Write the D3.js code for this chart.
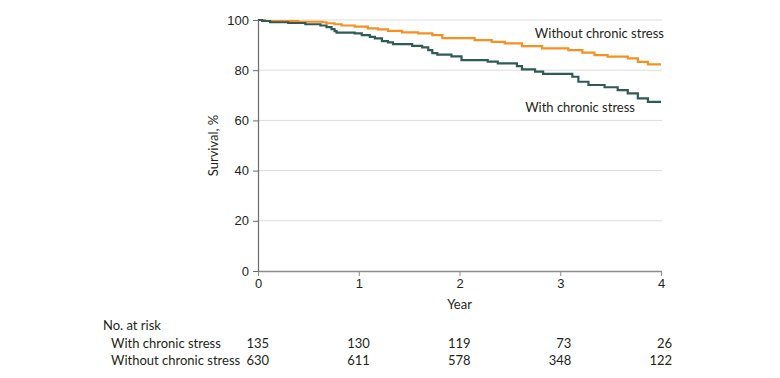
<!DOCTYPE html>
<html>
<head>
<meta charset="utf-8">
<style>
    body { margin: 0; background: white; }
    svg { font-family: Lato, "Noto Sans", sans-serif; }
    .grid line { stroke: #dcdcdc; stroke-width: 1; }
    text { fill: #231f20; }
</style>
<script src="https://cdn.jsdelivr.net/npm/d3@7"></script>
</head>
<body>
<svg id="chart" width="780" height="378"></svg>
<script>
    // Kaplan-Meier steps (year, survival %)
    let withStressTimes = [0, 0.04, 0.12, 0.30, 0.47, 0.62, 0.68, 0.73, 0.76, 0.78, 0.96, 1.03, 1.11, 1.16, 1.23, 1.29, 1.34, 1.53, 1.63, 1.69, 1.73, 1.78, 1.92,
        2.02, 2.28, 2.38, 2.57, 2.62, 2.75, 2.83, 3.12, 3.18, 3.28, 3.44, 3.57, 3.67, 3.77, 3.87, 4.0]
    let withStressSurv  = [100, 99.6, 99.1, 98.8, 98.3, 97.8, 97.2, 96.4, 95.6, 95.0, 94.7, 94.0, 93.3, 92.7, 91.6, 91.1, 90.4, 89.7, 89.1, 88.0, 86.8, 86.2, 85.5,
        84.0, 83.4, 82.7, 81.6, 80.3, 79.4, 78.5, 77.4, 75.4, 74.1, 73.2, 72.1, 70.8, 68.8, 67.4, 67.4]

    let withoutStressTimes = [0, 0.07, 0.40, 0.64, 0.68, 0.76, 0.83, 0.96, 1.09, 1.19, 1.29, 1.43, 1.59, 1.73, 1.83,
        2.15, 2.32, 2.45, 2.62, 2.82, 3.08, 3.22, 3.34, 3.47, 3.67, 3.77, 3.87, 4.0]
    let withoutStressSurv  = [100, 99.6, 99.3, 99.1, 98.7, 98.3, 97.8, 97.4, 96.7, 96.3, 95.7, 95.1, 94.7, 94.0, 92.8,
        92.0, 91.3, 90.7, 89.6, 88.7, 88.0, 87.0, 86.0, 85.4, 84.7, 83.3, 82.3, 82.3]

    let xTicks = [0, 1, 2, 3, 4]
    let yTicks = [0, 20, 40, 60, 80, 100]

    let riskLabels = ["With chronic stress", "Without chronic stress"]
    let riskWith = [135, 130, 119, 73, 26]
    let riskWithout = [630, 611, 578, 348, 122]

    let colorWith = "#2f5b57"
    let colorWithout = "#f7901e"

    let svg = d3.select("#chart")
    let margin = { left: 258, top: 20, right: 119, bottom: 107 }
    let width = 780, height = 378

    let xScale = d3.scaleLinear().domain([0, 4]).range([margin.left, width - margin.right])
    let yScale = d3.scaleLinear().domain([0, 100]).range([height - margin.bottom, margin.top])

    // gridlines
    svg.append("g").attr("class", "grid")
        .selectAll("line").data(yTicks.filter(d => d > 0)).enter().append("line")
        .attr("x1", xScale(0)).attr("x2", xScale(4) + 1)
        .attr("y1", d => yScale(d)).attr("y2", d => yScale(d))

    // curves
    let line = d3.line()
        .x(d => xScale(d[0]))
        .y(d => yScale(d[1]))
        .curve(d3.curveStepAfter)

    let withoutData = withoutStressTimes.map((t, i) => [t, withoutStressSurv[i]])
    let withData = withStressTimes.map((t, i) => [t, withStressSurv[i]])

    svg.append("path").datum(withoutData)
        .attr("d", line).attr("fill", "none")
        .attr("stroke", colorWithout).attr("stroke-width", 2.2)
    svg.append("path").datum(withData)
        .attr("d", line).attr("fill", "none")
        .attr("stroke", colorWith).attr("stroke-width", 2.2)

    // axes
    let axisX = d3.axisBottom(xScale).tickValues(xTicks).tickFormat(d3.format("d"))
        .tickSize(5).tickSizeOuter(0).tickPadding(3)
    let gx = svg.append("g")
        .attr("transform", `translate(0,${yScale(0)})`)
        .call(axisX)
    gx.select(".domain").attr("stroke", "#8c8c8c").attr("stroke-width", 1.6)
    gx.selectAll(".tick line").attr("stroke", "#8c8c8c")
    gx.selectAll(".tick text").attr("font-size", 13).attr("fill", "#231f20").attr("font-family", null)

    let axisY = d3.axisLeft(yScale).tickValues(yTicks).tickSize(5).tickSizeOuter(0).tickPadding(4)
    let gy = svg.append("g")
        .attr("transform", `translate(${xScale(0)},0)`)
        .call(axisY)
    gy.select(".domain").attr("stroke", "#6b6b6b").attr("stroke-width", 1.2)
    gy.selectAll(".tick line").attr("stroke", "#6b6b6b")
    gy.selectAll(".tick text").attr("font-size", 13).attr("fill", "#231f20").attr("font-family", null)

    // axis titles
    svg.append("text")
        .attr("x", xScale(2)).attr("y", 309)
        .attr("text-anchor", "middle").attr("font-size", 13)
        .text("Year")
    svg.append("text")
        .attr("transform", `translate(218,${yScale(50)}) rotate(-90)`)
        .attr("text-anchor", "middle").attr("font-size", 13)
        .text("Survival, %")

    // curve labels
    svg.append("text")
        .attr("x", 664).attr("y", 38)
        .attr("text-anchor", "end").attr("font-size", 13)
        .text("Without chronic stress")
    svg.append("text")
        .attr("x", 635).attr("y", 112)
        .attr("text-anchor", "end").attr("font-size", 13)
        .text("With chronic stress")

    // number at risk table
    svg.append("text")
        .attr("x", 103).attr("y", 330).attr("font-size", 13)
        .text("No. at risk")

    let riskRows = [riskWith, riskWithout]
    riskRows.forEach((row, r) => {
        let y = 348 + r * 17
        svg.append("text")
            .attr("x", 111).attr("y", y).attr("font-size", 13)
            .text(riskLabels[r])
        svg.selectAll(".risk" + r).data(row).enter().append("text")
            .attr("class", "risk" + r)
            .attr("x", (d, i) => xScale(xTicks[i]) + 11)
            .attr("y", y)
            .attr("text-anchor", "end").attr("font-size", 13)
            .text(d => d)
    })
</script>
</body>
</html>
